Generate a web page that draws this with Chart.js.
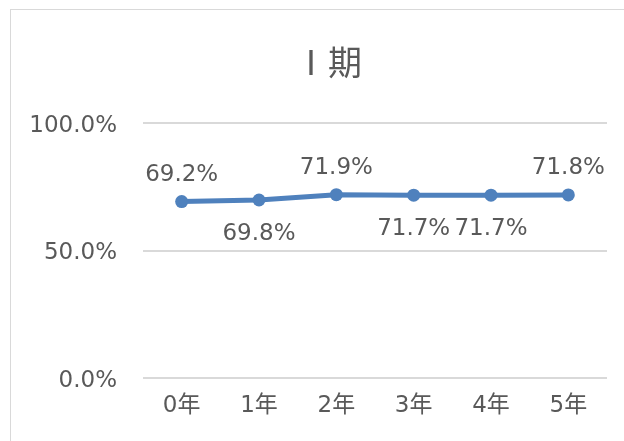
<!DOCTYPE html>
<html>
<head>
<meta charset="utf-8">
<script src="https://cdn.jsdelivr.net/npm/chart.js@4/dist/chart.umd.min.js"></script>
<style>
  html, body { margin: 0; padding: 0; background: #fff; overflow: hidden; }
  #wrap { position: absolute; left: 0; top: 0; width: 624px; height: 441px; }
  #frame {
    position: absolute; left: 10px; top: 9px; width: 700px; height: 500px;
    border: 1px solid #d9d9d9; box-sizing: border-box;
  }
  canvas { position: absolute; left: 0; top: 0; }
</style>
</head>
<body>
<div id="wrap">
  <div id="frame"></div>
  <canvas id="chart" width="624" height="441"></canvas>
</div>
<script>
// data
const years = ["0年", "1年", "2年", "3年", "4年", "5年"];
const rates = [69.2, 69.8, 71.9, 71.7, 71.7, 71.8];
const yTicks = [0, 50, 100];
const chartTitle = "Ⅰ期";
// where each value label sits relative to its point
const labelSide = ["above", "below", "above", "below", "below", "above"];

const FONT = "'DejaVu Sans', 'Noto Sans CJK JP', sans-serif";
const GREY = "#595959";

// value labels next to each point + the title (centred on the chart frame)
const labelsAndTitle = {
  id: "labelsAndTitle",
  afterDatasetsDraw(chart) {
    const ctx = chart.ctx;
    const meta = chart.getDatasetMeta(0);
    ctx.save();
    ctx.fillStyle = GREY;
    ctx.textAlign = "center";
    ctx.textBaseline = "middle";

    ctx.font = "34px 'Noto Sans CJK JP', " + FONT;
    ctx.fillText(chartTitle, 328, 62);

    ctx.font = "23px " + FONT;
    meta.data.forEach((pt, i) => {
      const txt = rates[i].toFixed(1) + "%";
      const dy = labelSide[i] === "above" ? -27 : 34;
      ctx.fillText(txt, pt.x, pt.y + dy);
    });
    ctx.restore();
  }
};

new Chart(document.getElementById("chart"), {
  type: "line",
  data: {
    labels: years,
    datasets: [{
      data: rates,
      borderColor: "#4f81bd",
      backgroundColor: "#4f81bd",
      borderWidth: 5,
      pointRadius: 6.5,
      pointHoverRadius: 6.5,
      pointBorderWidth: 0,
      tension: 0
    }]
  },
  options: {
    responsive: false,
    animation: false,
    events: [],
    layout: { padding: { left: 0, right: 17, top: 123, bottom: 0 } },
    plugins: {
      legend: { display: false },
      tooltip: { enabled: false },
      title: { display: false }
    },
    scales: {
      x: {
        offset: true,
        grid: { display: false, drawTicks: false },
        border: { display: false },
        ticks: {
          color: GREY,
          font: { family: FONT, size: 23 },
          padding: 14,
          maxRotation: 0
        },
        afterFit(scale) { scale.height = 63; }
      },
      y: {
        min: 0,
        max: 100,
        afterBuildTicks(scale) { scale.ticks = yTicks.map(v => ({ value: v })); },
        grid: { color: "#d9d9d9", lineWidth: 2, drawTicks: false },
        border: { display: false },
        ticks: {
          color: GREY,
          font: { family: FONT, size: 23 },
          padding: 26,
          labelOffset: 3,
          callback: v => v.toFixed(1) + "%"
        },
        afterFit(scale) { scale.width = 143; }
      }
    }
  },
  plugins: [labelsAndTitle]
});
</script>
</body>
</html>
